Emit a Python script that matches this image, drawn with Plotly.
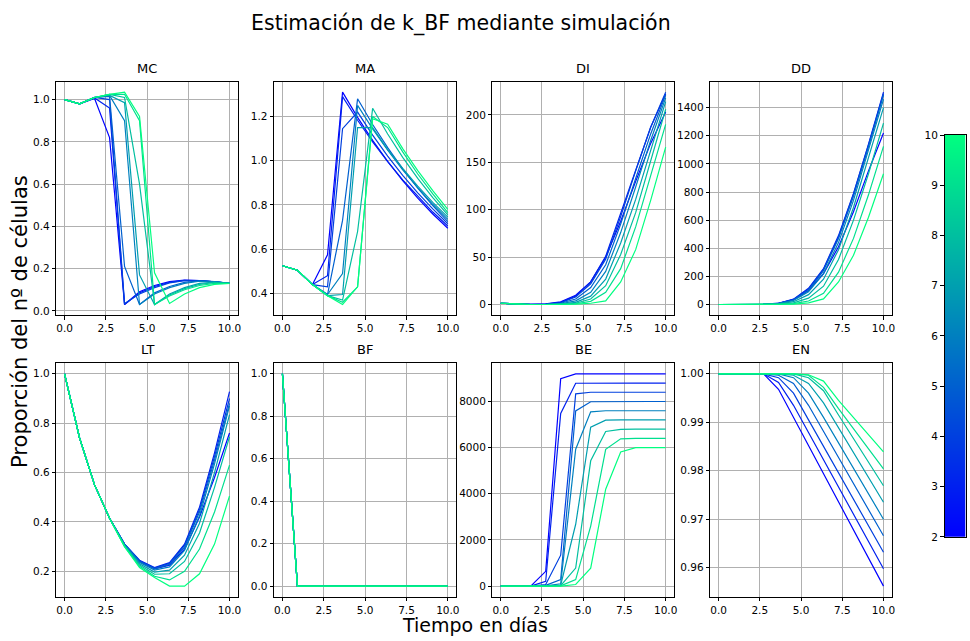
import plotly.graph_objects as go
import numpy as np

# ---------------- data ----------------
TIME = [0.0, 0.909, 1.818, 2.727, 3.636, 4.545, 5.455, 6.364, 7.273, 8.182, 9.091, 10.0]
K_BF = [2, 3, 4, 5, 6, 7, 8, 9, 10]

MC = [
    [1.0, 0.98, 1.005, 0.82, 0.03, 0.09, 0.12, 0.138, 0.145, 0.143, 0.137, 0.13],
    [1.0, 0.98, 1.008, 0.96, 0.03, 0.085, 0.115, 0.135, 0.144, 0.143, 0.137, 0.13],
    [1.0, 0.98, 1.01, 1.0, 0.035, 0.08, 0.11, 0.132, 0.143, 0.143, 0.137, 0.13],
    [1.0, 0.98, 1.01, 1.015, 0.21, 0.03, 0.085, 0.115, 0.135, 0.142, 0.138, 0.13],
    [1.0, 0.98, 1.01, 1.02, 0.9, 0.03, 0.08, 0.11, 0.13, 0.14, 0.138, 0.13],
    [1.0, 0.98, 1.01, 1.02, 0.985, 0.17, 0.03, 0.08, 0.11, 0.13, 0.136, 0.13],
    [1.0, 0.98, 1.01, 1.025, 1.01, 0.6, 0.03, 0.075, 0.105, 0.125, 0.134, 0.13],
    [1.0, 0.98, 1.01, 1.025, 1.025, 0.9, 0.03, 0.07, 0.1, 0.12, 0.13, 0.13],
    [1.0, 0.98, 1.01, 1.025, 1.035, 0.92, 0.18, 0.035, 0.08, 0.11, 0.125, 0.13],
]
MA = [
    [0.525, 0.505, 0.44, 0.575, 1.31, 1.196, 1.092, 0.997, 0.91, 0.831, 0.759, 0.695],
    [0.525, 0.505, 0.44, 0.48, 1.29, 1.183, 1.085, 0.996, 0.913, 0.838, 0.768, 0.705],
    [0.525, 0.505, 0.44, 0.43, 1.145, 1.22, 1.116, 1.021, 0.934, 0.855, 0.782, 0.715],
    [0.525, 0.505, 0.44, 0.395, 0.73, 1.28, 1.164, 1.059, 0.963, 0.876, 0.797, 0.725],
    [0.525, 0.505, 0.44, 0.395, 0.49, 1.25, 1.144, 1.048, 0.959, 0.878, 0.803, 0.735],
    [0.525, 0.505, 0.44, 0.39, 0.395, 1.15, 1.15, 1.05, 0.965, 0.885, 0.812, 0.745],
    [0.525, 0.505, 0.44, 0.39, 0.37, 0.68, 1.237, 1.121, 1.015, 0.92, 0.833, 0.755],
    [0.525, 0.505, 0.44, 0.39, 0.36, 0.43, 1.2, 1.15, 1.04, 0.94, 0.85, 0.765],
    [0.525, 0.505, 0.44, 0.39, 0.35, 0.43, 1.19, 1.165, 1.055, 0.955, 0.865, 0.78],
]
DI = [
    [1.5, 0.5, 0.3, 0.8, 3, 10, 24, 50, 88, 130, 170, 203],
    [1.5, 0.5, 0.3, 0.5, 2.5, 9, 24, 51, 96, 143, 187, 222],
    [1.5, 0.5, 0.3, 0.4, 2, 8, 22, 48, 93, 141, 187, 224],
    [1.5, 0.5, 0.2, 0.3, 1.5, 6, 18, 42, 85, 133, 180, 221],
    [1.5, 0.5, 0.2, 0.2, 1, 4, 13, 35, 76, 124, 173, 218],
    [1.5, 0.5, 0.2, 0.2, 0.6, 2.5, 9, 27, 65, 111, 163, 214],
    [1.5, 0.5, 0.2, 0.2, 0.4, 1.5, 6, 20, 53, 97, 152, 206],
    [1.5, 0.5, 0.2, 0.2, 0.3, 1, 3.5, 13, 38, 82, 136, 190],
    [1.5, 0.5, 0.2, 0.2, 0.2, 0.5, 1.5, 4, 24, 58, 110, 166],
]
DD = [
    [0, 0, 0, 1, 8, 35, 100, 220, 410, 660, 950, 1220],
    [0, 0, 0, 1, 9, 38, 115, 255, 490, 790, 1140, 1510],
    [0, 0, 0, 1, 8, 35, 110, 250, 480, 785, 1135, 1500],
    [0, 0, 0, 1, 7, 32, 100, 240, 470, 770, 1120, 1490],
    [0, 0, 0, 1, 6, 28, 90, 220, 440, 740, 1100, 1460],
    [0, 0, 0, 0.5, 4, 20, 70, 180, 390, 690, 1040, 1400],
    [0, 0, 0, 0, 2, 12, 45, 130, 320, 600, 930, 1290],
    [0, 0, 0, 0, 1, 6, 25, 80, 230, 470, 780, 1125],
    [0, 0, 0, 0, 0.5, 3, 12, 40, 160, 350, 620, 930],
]
LT = [
    [1.0, 0.74, 0.55, 0.415, 0.31, 0.24, 0.21, 0.225, 0.29, 0.42, 0.58, 0.76],
    [1.0, 0.74, 0.55, 0.415, 0.31, 0.245, 0.215, 0.235, 0.31, 0.46, 0.68, 0.928],
    [1.0, 0.74, 0.55, 0.415, 0.31, 0.243, 0.213, 0.232, 0.305, 0.45, 0.665, 0.90],
    [1.0, 0.74, 0.55, 0.415, 0.31, 0.24, 0.21, 0.228, 0.298, 0.44, 0.65, 0.88],
    [1.0, 0.74, 0.55, 0.415, 0.308, 0.236, 0.205, 0.218, 0.285, 0.425, 0.635, 0.87],
    [1.0, 0.74, 0.55, 0.415, 0.305, 0.23, 0.197, 0.205, 0.265, 0.395, 0.60, 0.835],
    [1.0, 0.74, 0.55, 0.415, 0.303, 0.225, 0.188, 0.19, 0.24, 0.355, 0.54, 0.745],
    [1.0, 0.74, 0.55, 0.415, 0.30, 0.22, 0.18, 0.165, 0.20, 0.29, 0.44, 0.63],
    [1.0, 0.74, 0.55, 0.415, 0.30, 0.215, 0.175, 0.14, 0.14, 0.19, 0.31, 0.505],
]
BF = [
    [1.0, 0, 0, 0, 0, 0, 0, 0, 0, 0, 0, 0],
    [1.0, 0, 0, 0, 0, 0, 0, 0, 0, 0, 0, 0],
    [1.0, 0, 0, 0, 0, 0, 0, 0, 0, 0, 0, 0],
    [1.0, 0, 0, 0, 0, 0, 0, 0, 0, 0, 0, 0],
    [1.0, 0, 0, 0, 0, 0, 0, 0, 0, 0, 0, 0],
    [1.0, 0, 0, 0, 0, 0, 0, 0, 0, 0, 0, 0],
    [1.0, 0, 0, 0, 0, 0, 0, 0, 0, 0, 0, 0],
    [1.0, 0, 0, 0, 0, 0, 0, 0, 0, 0, 0, 0],
    [1.0, 0, 0, 0, 0, 0, 0, 0, 0, 0, 0, 0],
]
BE = [
    [0, 0, 0, 640, 8990, 9200, 9200, 9200, 9200, 9200, 9200, 9200],
    [0, 0, 0, 210, 7480, 8790, 8800, 8800, 8800, 8800, 8800, 8800],
    [0, 0, 0, 70, 1340, 8330, 8400, 8400, 8400, 8400, 8400, 8400],
    [0, 0, 0, 30, 280, 7590, 7990, 8000, 8000, 8000, 8000, 8000],
    [0, 0, 0, 10, 100, 5930, 7550, 7600, 7600, 7600, 7600, 7600],
    [0, 0, 0, 0, 40, 2680, 6890, 7190, 7200, 7200, 7200, 7200],
    [0, 0, 0, 0, 20, 780, 5430, 6700, 6790, 6800, 6800, 6800],
    [0, 0, 0, 0, 10, 280, 2600, 5930, 6380, 6400, 6400, 6400],
    [0, 0, 0, 0, 0, 70, 780, 4200, 5810, 6000, 6000, 6000],
]
EN = [
    [1, 1, 1, 1, 0.9968, 0.991, 0.9852, 0.9794, 0.9736, 0.9678, 0.962, 0.9562],
    [1, 1, 1, 1, 0.9982, 0.9935, 0.9879, 0.9823, 0.9766, 0.971, 0.9654, 0.9598],
    [1, 1, 1, 1, 0.9992, 0.996, 0.9905, 0.985, 0.9796, 0.9741, 0.9687, 0.9632],
    [1, 1, 1, 1, 0.9997, 0.998, 0.9935, 0.9881, 0.9827, 0.9774, 0.972, 0.9666],
    [1, 1, 1, 1, 1, 0.9992, 0.996, 0.991, 0.9858, 0.9805, 0.9753, 0.970],
    [1, 1, 1, 1, 1, 0.9997, 0.998, 0.994, 0.9889, 0.9838, 0.9786, 0.9735],
    [1, 1, 1, 1, 1, 1, 0.9992, 0.9965, 0.9915, 0.9866, 0.9818, 0.9769],
    [1, 1, 1, 1, 1, 1, 0.9997, 0.9972, 0.9928, 0.9887, 0.9845, 0.9804],
    [1, 1, 1, 1, 1, 1, 0.9998, 0.9985, 0.9945, 0.991, 0.9875, 0.9839],
]

PANEL_NAMES = ["MC", "MA", "DI", "DD", "LT", "BF", "BE", "EN"]
PANEL_DATA = [MC, MA, DI, DD, LT, BF, BE, EN]
Y_DTICK = [0.2, 0.2, 50, 200, 0.2, 0.2, 2000, 0.01]
Y_FMT = [".1f", ".1f", "d", "d", ".1f", ".1f", "d", ".2f"]
X_TICKS = [0, 2.5, 5, 7.5, 10]

TITLE = "Estimación de k_BF mediante simulación"
XLABEL = "Tiempo en días"
YLABEL = "Proporción del nº de células"

# ---------------- layout geometry (pixels) ----------------
W, H = 970, 641
COLS = [(56.5, 238.5), (275, 457.5), (494, 676), (712.5, 894.5)]
ROWS = [(77, 315), (364, 602)]
FONT = "DejaVu Sans"


def xd(a, b):
    return [a / W, b / W]


def yd(top, bottom):
    return [1 - bottom / H, 1 - top / H]


def winter(k):
    t = (k - min(K_BF)) / (max(K_BF) - min(K_BF))
    return f"rgb(0,{255 * t:.1f},{255 * (1 - 0.5 * t):.1f})"


fig = go.Figure()
layout = dict(
    width=W, height=H, margin=dict(l=0, r=0, t=0, b=0),
    paper_bgcolor="white", plot_bgcolor="white", showlegend=False,
    font=dict(family=FONT, color="black"),
)
annotations = []

for i, (name, data) in enumerate(zip(PANEL_NAMES, PANEL_DATA)):
    r, c = divmod(i, 4)
    n = i + 1
    xa = "x" if n == 1 else f"x{n}"
    ya = "y" if n == 1 else f"y{n}"
    for k, series in zip(K_BF, data):
        fig.add_trace(go.Scatter(x=TIME, y=series, mode="lines", xaxis=xa, yaxis=ya,
                                 line=dict(color=winter(k), width=1.2), hoverinfo="skip"))
    arr = np.array(data, dtype=float)
    lo, hi = arr.min(), arr.max()
    pad = 0.05 * (hi - lo)
    common = dict(showline=True, linecolor="black", linewidth=1, mirror=True,
                  ticks="outside", ticklen=3.5, tickwidth=0.8, tickcolor="black",
                  showgrid=True, gridcolor="#b0b0b0", gridwidth=1, zeroline=False,
                  tickfont=dict(family=FONT, size=10.5, color="black"))
    layout[f"xaxis{n if n > 1 else ''}"] = dict(
        common, domain=xd(*COLS[c]), anchor=ya, range=[-0.5, 10.5],
        tickmode="array", tickvals=X_TICKS, ticktext=[f"{v:.1f}" for v in X_TICKS])
    layout[f"yaxis{n if n > 1 else ''}"] = dict(
        common, domain=yd(*ROWS[r]), anchor=xa, range=[lo - pad, hi + pad],
        tick0=0, dtick=Y_DTICK[i], tickformat=Y_FMT[i])
    annotations.append(dict(text=name, x=(COLS[c][0] + COLS[c][1]) / 2 / W,
                            y=1 - (ROWS[r][0] - 4) / H, xref="paper", yref="paper",
                            xanchor="center", yanchor="bottom", showarrow=False,
                            font=dict(family=FONT, size=13, color="black")))

# colorbar drawn as a thin heatmap axis with labels on the left
grad = np.linspace(min(K_BF), max(K_BF), 256)
fig.add_trace(go.Heatmap(z=grad.reshape(-1, 1), x=[0], y=grad, xaxis="x9", yaxis="y9",
                         colorscale=[[0, winter(min(K_BF))], [1, winter(max(K_BF))]],
                         showscale=False, hoverinfo="skip"))
layout["xaxis9"] = dict(domain=xd(947.5, 968.5), anchor="y9", range=[-0.5, 0.5],
                        showticklabels=False, ticks="", showgrid=False, zeroline=False,
                        showline=True, linecolor="black", linewidth=1, mirror=True)
layout["yaxis9"] = dict(domain=yd(131.5, 541), anchor="x9", range=[min(K_BF), max(K_BF)],
                        side="left", tickmode="array", tickvals=K_BF,
                        ticks="outside", ticklen=3.5, tickwidth=0.8, tickcolor="black",
                        showgrid=False, zeroline=False,
                        showline=True, linecolor="black", linewidth=1, mirror=True,
                        tickfont=dict(family=FONT, size=10.5, color="black"))

annotations += [
    dict(text=TITLE, x=462 / W, y=1 - 18 / H, xref="paper", yref="paper",
         xanchor="center", yanchor="middle", showarrow=False,
         font=dict(family=FONT, size=20.5, color="black")),
    dict(text=XLABEL, x=476 / W, y=1 - 631 / H, xref="paper", yref="paper",
         xanchor="center", yanchor="middle", showarrow=False,
         font=dict(family=FONT, size=19, color="black")),
    dict(text=YLABEL, x=20 / W, y=1 - 321 / H, xref="paper", yref="paper",
         xanchor="center", yanchor="middle", showarrow=False, textangle=-90,
         font=dict(family=FONT, size=21, color="black")),
]
layout["annotations"] = annotations
fig.update_layout(**layout)
fig.write_html("out.html", config={"displayModeBar": False},
               post_script="document.body.style.margin='0px';document.body.style.overflow='hidden';")
